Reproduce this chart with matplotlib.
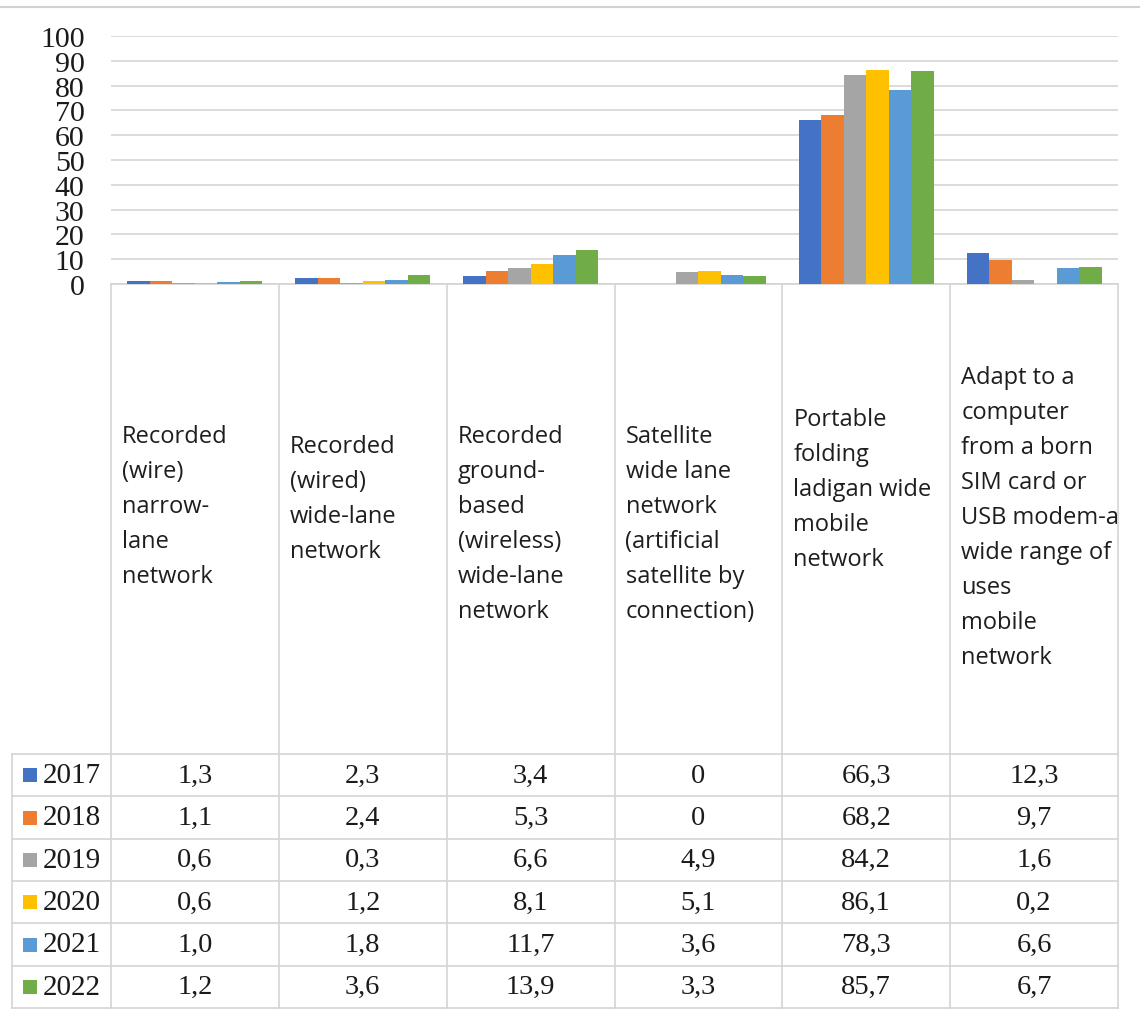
import matplotlib
matplotlib.use("Agg")
import matplotlib.pyplot as plt
import numpy as np

# ---------------- data ----------------
categories = [
    ["Recorded", "(wire)", "narrow-", "lane", "network"],
    ["Recorded", "(wired)", "wide-lane", "network"],
    ["Recorded", "ground-", "based", "(wireless)", "wide-lane", "network"],
    ["Satellite", "wide lane", "network", "(artificial", "satellite by", "connection)"],
    ["Portable", "folding", "ladigan wide", "mobile", "network"],
    ["Adapt to a", "computer", "from a born", "SIM card or", "USB modem-a",
     "wide range of", "uses", "mobile", "network"],
]
years = ["2017", "2018", "2019", "2020", "2021", "2022"]
v2017 = [1.3, 2.3, 3.4, 0.0, 66.3, 12.3]
v2018 = [1.1, 2.4, 5.3, 0.0, 68.2, 9.7]
v2019 = [0.6, 0.3, 6.6, 4.9, 84.2, 1.6]
v2020 = [0.6, 1.2, 8.1, 5.1, 86.1, 0.2]
v2021 = [1.0, 1.8, 11.7, 3.6, 78.3, 6.6]
v2022 = [1.2, 3.6, 13.9, 3.3, 85.7, 6.7]
series = [v2017, v2018, v2019, v2020, v2021, v2022]
yticks = [0, 10, 20, 30, 40, 50, 60, 70, 80, 90, 100]

colors = ["#4472C4", "#ED7D31", "#A5A5A5", "#FFC000", "#5B9BD5", "#70AD47"]

W, H = 1140, 1012
fig = plt.figure(figsize=(W / 100, H / 100), dpi=100)
fig.patch.set_facecolor("white")

# overlay in pixel coordinates for the table
ov = fig.add_axes([0, 0, 1, 1], zorder=0)
ov.set_xlim(0, W)
ov.set_ylim(H, 0)
ov.axis("off")

x_left, x_right = 111, 1118
y_top, y_zero = 37, 285
col_edges = np.linspace(x_left, x_right, len(categories) + 1)
row_edges = np.linspace(755, 1009, len(years) + 1)
leg_left = 12
line_c = "#d4d4d4"

# top border
ov.plot([0, W], [8, 8], color="#d0d0d0", lw=1.5)

# table lines
for xe in col_edges:
    ov.plot([xe, xe], [y_zero, row_edges[-1]], color=line_c, lw=1.2)
ov.plot([leg_left, leg_left], [row_edges[0], row_edges[-1]], color=line_c, lw=1.2)
for ye in row_edges:
    ov.plot([leg_left, x_right], [ye, ye], color=line_c, lw=1.2)

# header text
header_top = [437, 447, 437, 437, 420, 378]
for i, lines in enumerate(categories):
    for k, ln in enumerate(lines):
        ov.text(col_edges[i] + 11, header_top[i] + 35 * k, ln,
                family="Open Sans", fontsize=17, color="#1e1e1e",
                ha="left", va="center")

# data rows
for r, (yr, vals) in enumerate(zip(years, series)):
    yc = (row_edges[r] + row_edges[r + 1]) / 2
    ov.add_patch(plt.Rectangle((23, yc - 7), 14, 14, color=colors[r], lw=0))
    ov.text(43, yc, yr, family="Liberation Serif", fontsize=21,
            ha="left", va="center", color="#1a1a1a")
    for i, v in enumerate(vals):
        xc = (col_edges[i] + col_edges[i + 1]) / 2
        s = "0" if v == 0 else f"{v:.1f}".replace(".", ",")
        ov.text(xc, yc, s, family="Liberation Serif", fontsize=20.5,
                ha="center", va="center", color="#1a1a1a")

# bar chart axes
ax = fig.add_axes([x_left / W, (H - y_zero) / H, (x_right - x_left) / W,
                   (y_zero - y_top) / H], zorder=1)
ax.patch.set_alpha(0)
n = len(categories)
x = np.arange(n)
bw = 0.134
for j, vals in enumerate(series):
    ax.bar(x + (j - 2.5) * bw, vals, width=bw, color=colors[j], zorder=3)
ax.set_xlim(-0.5, n - 0.5)
ax.set_ylim(0, 100)
ax.set_yticks(yticks)
ax.set_yticklabels([str(t) for t in yticks], family="Liberation Serif",
                   fontsize=21.5, color="#1a1a1a")
ax.tick_params(axis="y", length=0, pad=19)
ax.set_xticks([])
ax.yaxis.grid(True, color="#d9d9d9", lw=1.3, zorder=0)
ax.set_axisbelow(True)
for s in ["top", "left", "right"]:
    ax.spines[s].set_visible(False)
ax.spines["bottom"].set_color("#d4d4d4")
ax.spines["bottom"].set_linewidth(1.2)

fig.savefig("out.png", dpi=100, facecolor="white")
